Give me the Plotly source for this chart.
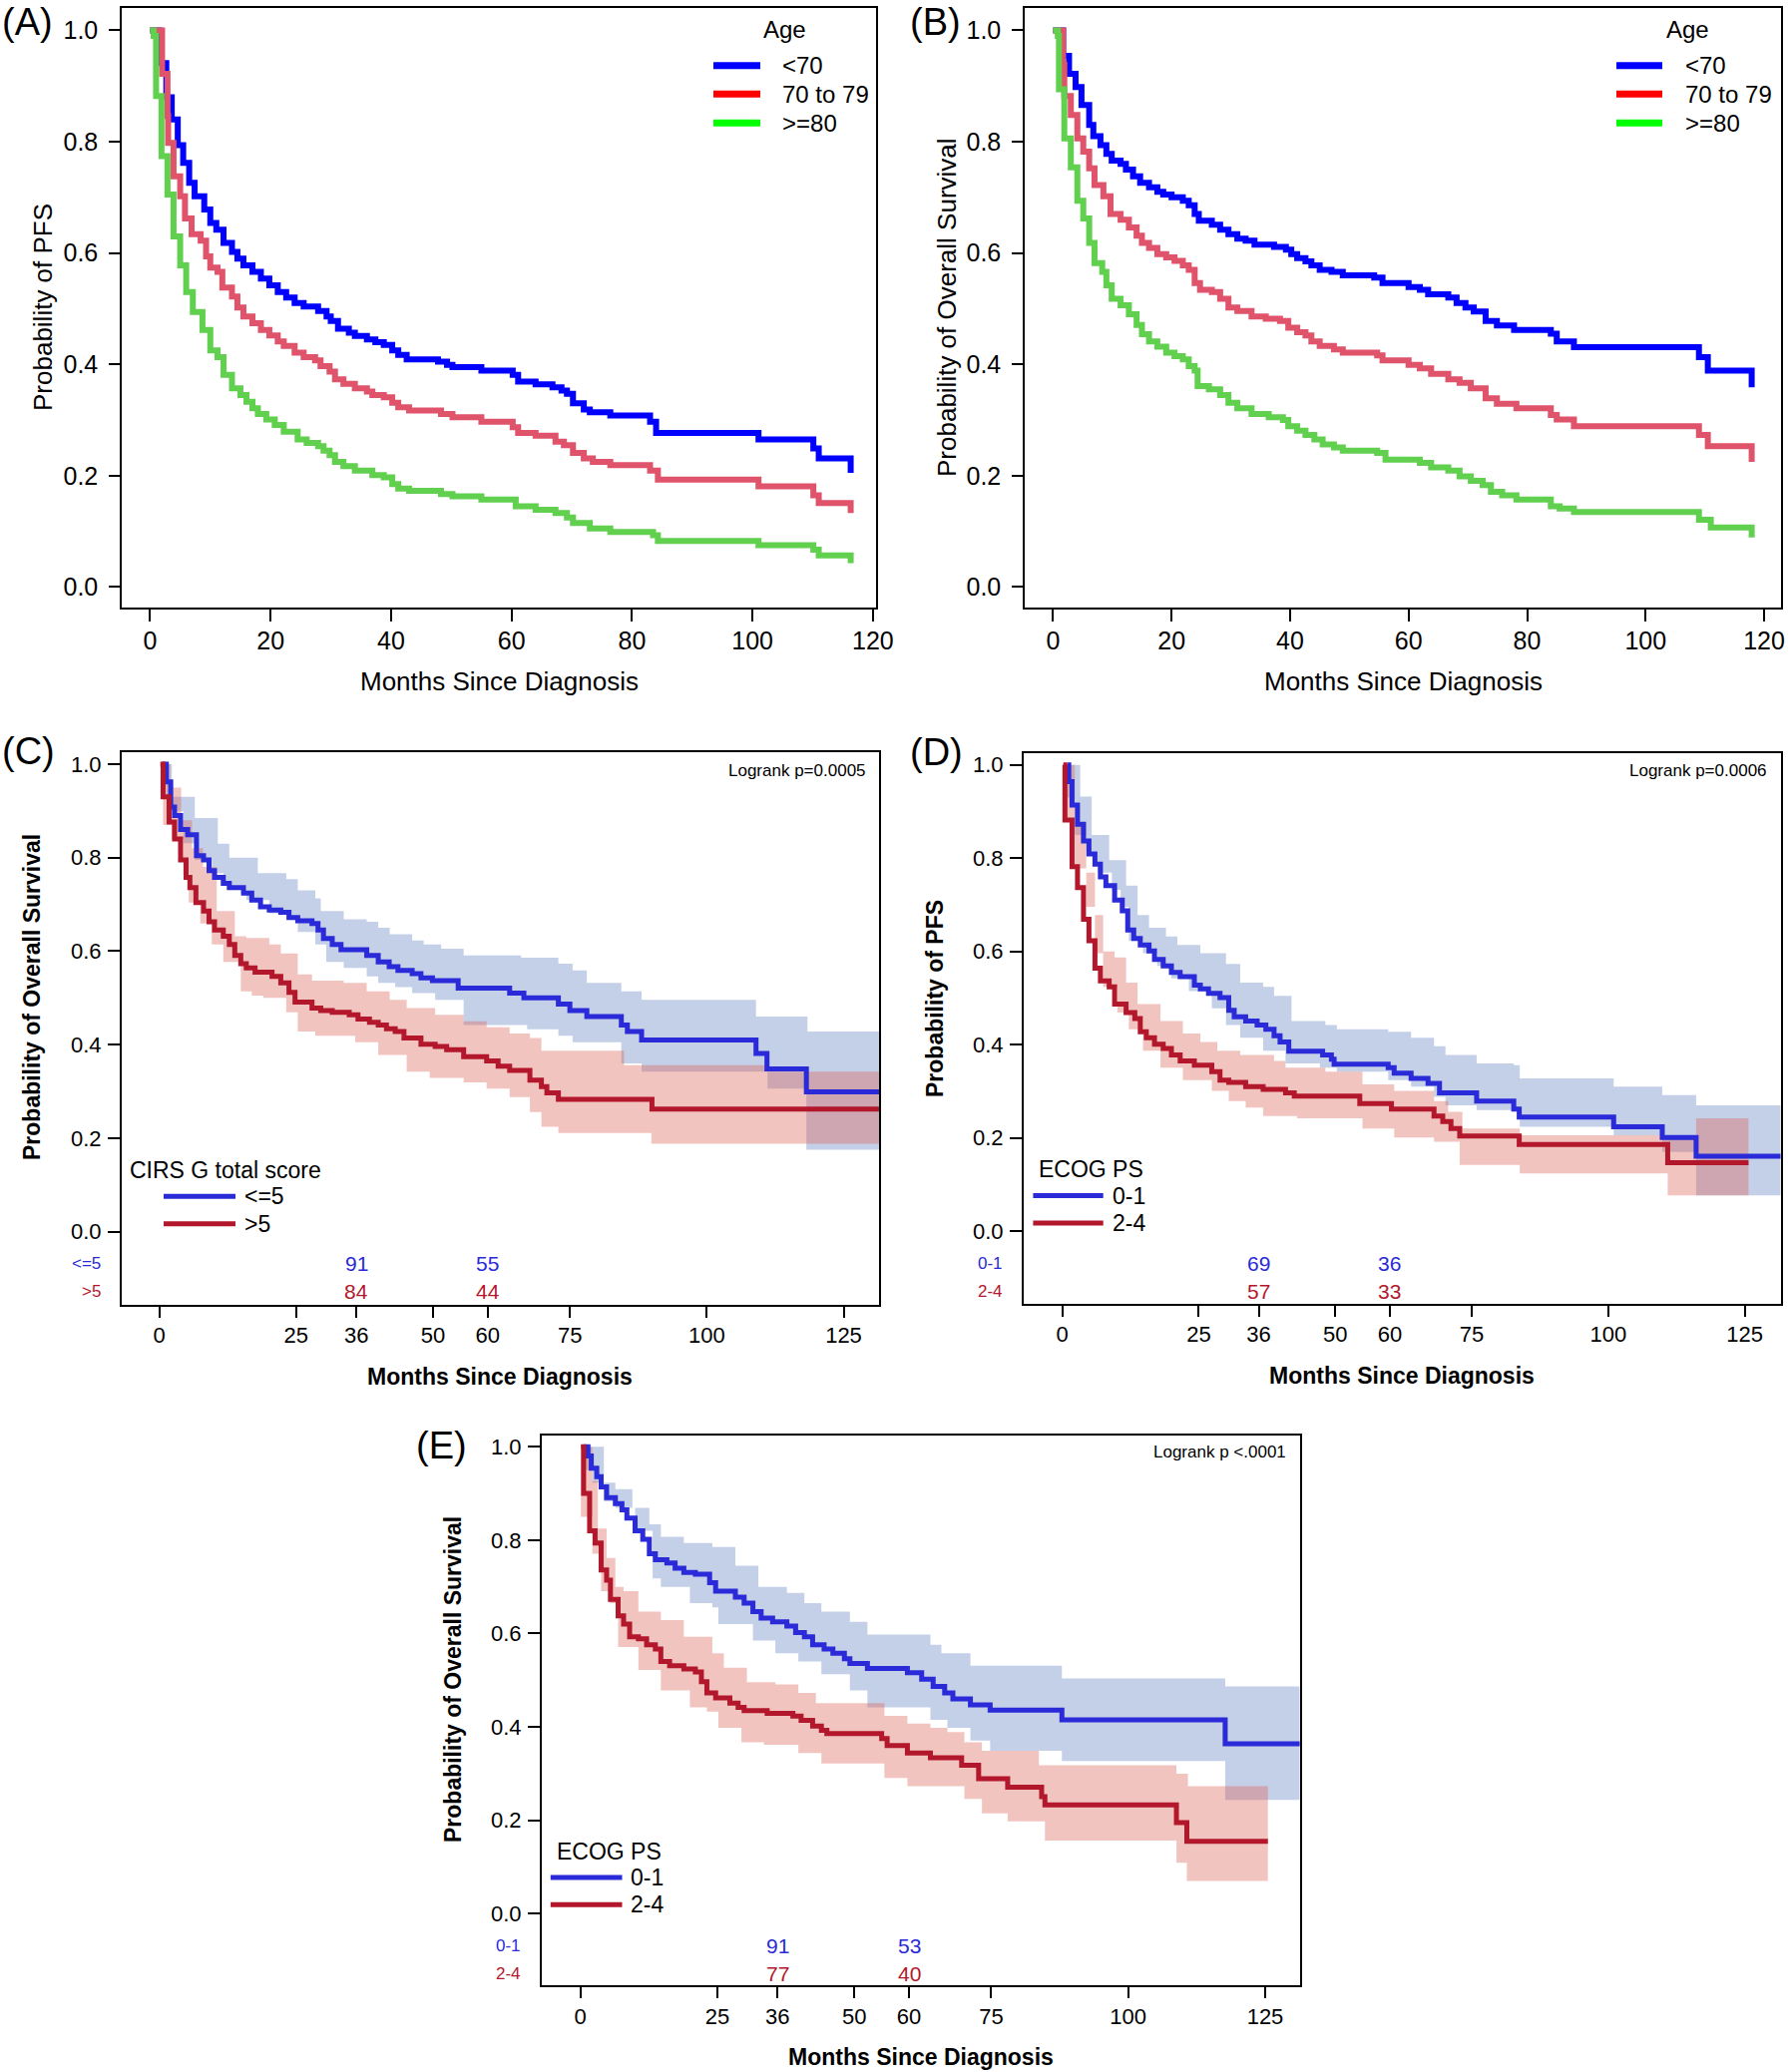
import plotly.graph_objects as go

# ======================= DATA =======================
# Kaplan-Meier steps as (months, survival probability)

# Panel A - PFS by age
A_LT70 = [(0,1.0),(1.5,0.941),(2.7,0.88),(3.6,0.84),(4.6,0.794),(5.5,0.762),(6.5,0.726),(7.4,0.702),(9,0.678),(10,0.654),
          (11,0.642),(12.2,0.618),(13.6,0.602),(14.5,0.59),(15.5,0.578),(17,0.566),(18.4,0.554),(19.8,0.542),(21.2,0.53),(22.6,0.52),
          (24,0.51),(25.5,0.504),(27.9,0.496),(29.3,0.486),(30,0.478),(31.2,0.464),(33,0.457),(34,0.451),(36,0.445),(37.4,0.44),
          (38.8,0.435),(40.2,0.425),(41.2,0.417),(42.6,0.409),(47.8,0.405),(49.3,0.399),(50.2,0.395),(55,0.389),(60.2,0.381),(61.1,0.369),
          (64,0.364),(66.8,0.359),(68.3,0.353),(69.2,0.347),(70.2,0.33),(72,0.319),(73,0.314),(76.4,0.308),(83,0.297),(84,0.277),
          (101,0.265),(110.1,0.249),(111,0.231),(116.3,0.205)]
A_70_79 = [(0,1.0),(2,0.922),(2.9,0.846),(3.0,0.798),(3.9,0.738),(5,0.702),(5.8,0.662),(6.9,0.634),(8.4,0.622),(9.3,0.594),
           (10,0.574),(11.2,0.566),(12,0.538),(13.6,0.522),(14.5,0.502),(15.5,0.486),(17,0.474),(18.4,0.462),(19.8,0.452),(21.2,0.441),
           (22.2,0.433),(24,0.421),(25.5,0.413),(27.4,0.407),(28.3,0.397),(29.8,0.387),(30.7,0.373),(32.1,0.365),(34,0.357),(36,0.351),
           (36.9,0.345),(38.8,0.341),(40.2,0.331),(41.2,0.323),(43,0.317),(48.3,0.311),(50.2,0.305),(55,0.297),(60.2,0.287),(61.1,0.277),
           (64,0.272),(67.3,0.261),(68.7,0.255),(70.2,0.241),(72,0.231),(73.5,0.225),(76.4,0.219),(83,0.209),(84.3,0.193),(101,0.181),
           (110.1,0.165),(111,0.151),(116.3,0.133)]
A_GE80 = [(0,1.0),(0.6,0.99),(1,0.882),(1.9,0.774),(2.9,0.705),(3.9,0.63),(5,0.578),(6,0.53),(7.1,0.494),(8.7,0.462),
          (10,0.425),(11.2,0.413),(12.2,0.381),(13.6,0.357),(15,0.345),(16,0.333),(17,0.321),(17.9,0.311),(19.3,0.301),(20.7,0.291),
          (22.2,0.279),(24.5,0.265),(26,0.259),(27.9,0.253),(28.8,0.245),(29.8,0.237),(30.7,0.225),(32.1,0.217),(34,0.209),(36.9,0.201),
          (38.8,0.197),(40.2,0.185),(41.2,0.177),(43,0.173),(48.3,0.167),(50.2,0.163),(55,0.157),(60.7,0.145),(64,0.139),(67.3,0.133),
          (69.2,0.125),(70.2,0.115),(73,0.105),(76.4,0.099),(83.5,0.093),(84.3,0.083),(101,0.075),(110.1,0.067),(111,0.057),(116.3,0.043)]

# Panel B - overall survival by age
B_LT70 = [(0,1.0),(1.7,0.954),(2.7,0.922),(3.8,0.898),(4.8,0.866),(6.1,0.83),(6.8,0.81),(8,0.794),(9,0.778),(9.9,0.766),
          (11.4,0.76),(12.3,0.75),(13.5,0.738),(14.7,0.726),(16.2,0.718),(17.6,0.71),(18.6,0.705),(20,0.70),(21.9,0.694),(22.9,0.686),
          (23.9,0.67),(24.6,0.658),(26.8,0.651),(28.2,0.642),(29.6,0.634),(31.1,0.626),(32.5,0.622),(34,0.615),(37.3,0.611),(39.3,0.606),
          (40.2,0.598),(41.2,0.591),(42.6,0.585),(43.6,0.578),(45,0.57),(47,0.566),(48.9,0.56),(54.2,0.556),(55.6,0.546),(60,0.539),
          (61.9,0.534),(63.3,0.526),(66.7,0.52),(68.1,0.51),(69.6,0.502),(71,0.495),(73,0.478),(74.9,0.47),(77.8,0.462),(84,0.455),
          (85,0.441),(87.9,0.431),(109,0.413),(110.5,0.389),(117.9,0.359)]
B_70_79 = [(0,1.0),(1.7,0.938),(1.9,0.882),(3,0.848),(4.1,0.806),(5.1,0.782),(6.1,0.752),(7,0.722),(8.5,0.702),(9.7,0.67),
           (11.4,0.66),(12.8,0.646),(14.1,0.631),(15,0.618),(16.2,0.609),(17.6,0.598),(19.1,0.592),(20.5,0.586),(21.9,0.578),(22.9,0.57),
           (23.9,0.546),(24.8,0.534),(26.8,0.53),(28.2,0.518),(29.6,0.502),(31.1,0.496),(33.5,0.486),(35.9,0.482),(38.3,0.478),(39.7,0.466),
           (41.2,0.458),(42.6,0.452),(43.6,0.441),(45,0.433),(47.4,0.427),(48.9,0.421),(54.7,0.416),(55.6,0.407),(60,0.399),(61.9,0.393),
           (63.8,0.383),(66.7,0.373),(68.6,0.367),(70.5,0.357),(73,0.339),(74.9,0.329),(78.2,0.321),(84,0.309),(85,0.301),(87.9,0.289),
           (109,0.273),(110.5,0.253),(117.9,0.225)]
B_GE80 = [(0,1.0),(0.8,0.99),(1,0.894),(1.9,0.806),(3,0.754),(4.1,0.694),(5.1,0.662),(6.1,0.618),(7,0.582),(8.3,0.566),
          (9,0.542),(9.9,0.518),(11.4,0.506),(12.8,0.49),(14.1,0.471),(15,0.454),(16.2,0.441),(17.6,0.432),(19.1,0.421),(20.5,0.415),
          (21.9,0.409),(22.9,0.397),(23.9,0.389),(24.4,0.361),(26.3,0.355),(28.2,0.345),(29.6,0.331),(31.1,0.321),(33.5,0.311),(36.4,0.305),
          (38.8,0.30),(39.7,0.289),(41.2,0.281),(42.6,0.273),(44.1,0.265),(45.5,0.256),(47.4,0.251),(48.9,0.245),(54.7,0.241),(56.1,0.229),
          (61.9,0.223),(63.8,0.215),(66.7,0.209),(68.6,0.199),(70.5,0.191),(72.5,0.183),(73.9,0.171),(75.8,0.165),(78.2,0.157),(84,0.145),
          (85.5,0.141),(87.9,0.135),(109,0.121),(111,0.107),(117.9,0.089)]

# Panel C - OS by CIRS-G total score
C_LE5 = [(0.5,1.0),(1.3,0.962),(2.1,0.908),(2.8,0.89),(3.9,0.86),(5.2,0.849),(6.8,0.804),(8.1,0.795),(9.1,0.772),(10.1,0.758),
         (11.7,0.745),(12.8,0.736),(15.4,0.724),(16.9,0.709),(18.5,0.695),(20.1,0.688),(22.2,0.683),(23.7,0.672),(25.3,0.665),(27.9,0.659),
         (29,0.645),(30,0.627),(31.6,0.614),(33.2,0.603),(37.9,0.591),(40,0.577),(42,0.567),(43.6,0.559),(46.2,0.552),(47.8,0.543),
         (49.9,0.537),(54.6,0.521),(64,0.51),(66.6,0.50),(72.9,0.487),(75,0.473),(78.1,0.46),(84.4,0.442),(85.5,0.428),(88.1,0.41),
         (109,0.381),(111,0.348),(118.2,0.299),(132,0.299)]
C_GT5 = [(0.2,1.0),(0.7,0.93),(1.8,0.876),(2.8,0.84),(3.9,0.795),(4.9,0.758),(5.6,0.736),(6.7,0.704),(8.1,0.686),(9.1,0.663),
         (10.1,0.645),(11.7,0.632),(12.8,0.614),(13.8,0.591),(14.9,0.573),(15.9,0.564),(17.5,0.555),(20.6,0.546),(22.2,0.532),(23.7,0.512),
         (24.8,0.491),(27.9,0.478),(29.5,0.473),(31.6,0.469),(34.7,0.464),(36.3,0.455),(38.4,0.448),(40,0.442),(41.5,0.434),(43.1,0.428),
         (44.7,0.414),(47.8,0.401),(50.4,0.396),(52.5,0.389),(55.6,0.374),(59.8,0.365),(61.9,0.354),(64,0.345),(67.7,0.324),(69.8,0.31),
         (70.8,0.297),(72.9,0.283),(90,0.262),(132,0.262)]
C_LE5_HI = [(1.3,1.0),(2.3,0.93),(6.5,0.885),(10.7,0.83),(12.8,0.80),(18.0,0.767),(23.2,0.754),(25.3,0.73),(28.5,0.713),(29.5,0.686),
            (33.7,0.668),(37.9,0.663),(40,0.65),(42.1,0.636),(46.2,0.623),(48.3,0.614),(51.5,0.605),(55.6,0.591),(66.1,0.586),(72.9,0.573),
            (75.5,0.559),(78.1,0.532),(84.4,0.514),(88.1,0.496),(109,0.46),(118.4,0.428),(132,0.428)]
C_LE5_LO = [(1.3,0.93),(2.3,0.899),(4.4,0.831),(6.5,0.795),(9.6,0.767),(11.7,0.74),(15.9,0.709),(20.1,0.681),(23.2,0.668),(25.3,0.641),
            (28.5,0.614),(30.5,0.577),(33.7,0.564),(37.9,0.546),(40,0.532),(43.1,0.523),(46.2,0.51),(50.4,0.496),(55.6,0.442),(67.2,0.433),
            (72.9,0.419),(75.5,0.405),(84.4,0.36),(88.1,0.342),(111.1,0.306),(118.2,0.175),(132,0.175)]
C_GT5_HI = [(0.2,1.0),(2,0.95),(4,0.88),(6,0.82),(8,0.78),(10.5,0.686),(13.8,0.632),(15.9,0.628),(20.1,0.614),(22.2,0.595),
            (25.3,0.55),(27.9,0.537),(33.7,0.532),(37.9,0.514),(42.1,0.496),(45.2,0.478),(50.4,0.464),(55.6,0.45),(59.8,0.437),(64,0.424),
            (67.7,0.414),(69.8,0.387),(84.9,0.356),(111.1,0.342),(132,0.342)]
C_GT5_LO = [(0.2,1.0),(0.7,0.87),(2.3,0.84),(4.4,0.767),(5.4,0.704),(7.5,0.659),(9.6,0.614),(11.7,0.577),(14.9,0.514),(16.9,0.505),
            (19,0.50),(23.2,0.469),(25.3,0.428),(28.5,0.419),(35.8,0.405),(40,0.378),(45.2,0.342),(49.4,0.329),(55.6,0.319),(59.8,0.306),
            (64,0.288),(67.7,0.256),(69.8,0.224),(72.9,0.211),(89.9,0.188),(132,0.188)]
C_RISK_T = [36, 60]
C_RISK_LE5 = [91, 55]
C_RISK_GT5 = [84, 44]

# Panel D - PFS by ECOG PS
D_01 = [(1.0,1.0),(1.2,0.964),(1.8,0.914),(2.8,0.873),(3.9,0.837),(4.9,0.809),(6,0.787),(7,0.76),(8,0.741),(9.6,0.71),
        (11,0.687),(12,0.646),(13.1,0.628),(14.3,0.614),(15.9,0.601),(16.9,0.583),(18.5,0.569),(20,0.555),(21.6,0.546),(24.2,0.528),
        (25.3,0.52),(26.8,0.51),(28.9,0.501),(30.5,0.474),(31.5,0.46),(33.6,0.451),(35.7,0.442),(37.3,0.433),(38.8,0.419),(39.9,0.406),
        (41.5,0.386),(47.7,0.378),(49.3,0.369),(49.8,0.358),(59.7,0.351),(60.8,0.339),(63.9,0.328),(67,0.317),(69.1,0.297),(75.9,0.279),
        (82.7,0.262),(83.7,0.245),(101,0.224),(109.9,0.201),(116.1,0.161),(132,0.161)]
D_24 = [(0.2,1.0),(0.5,0.882),(1.8,0.782),(2.8,0.737),(3.9,0.669),(4.9,0.623),(6,0.564),(7,0.537),(8.6,0.524),(9.6,0.487),
        (11.7,0.469),(13.3,0.456),(14.3,0.428),(15.4,0.415),(16.9,0.401),(18.5,0.392),(20,0.378),(21.6,0.365),(24.2,0.356),(27.4,0.342),
        (28.9,0.324),(30.5,0.319),(33.6,0.31),(36.8,0.304),(40.9,0.297),(42.5,0.29),(54.5,0.274),(60.3,0.262),(68.1,0.247),(69.7,0.235),
        (71.2,0.22),(72.8,0.204),(83.7,0.186),(110.9,0.147),(125.7,0.147)]
D_01_HI = [(1.0,1.0),(3.3,0.932),(5.4,0.85),(8.6,0.796),(11.7,0.741),(13.8,0.678),(15.9,0.651),(19,0.632),(21.1,0.614),(25.3,0.596),
           (30,0.573),(32.6,0.533),(36.8,0.524),(38.8,0.505),(42,0.451),(48.2,0.442),(50.3,0.433),(59.7,0.428),(63.9,0.415),(68.1,0.397),
           (70.2,0.378),(75.9,0.36),(82.7,0.356),(83.8,0.328),(101,0.31),(109.9,0.292),(116.1,0.27),(132,0.27)]
D_01_LO = [(1.0,0.93),(2.3,0.85),(4.4,0.814),(6.5,0.769),(9.1,0.732),(10.7,0.696),(12.2,0.623),(14.8,0.596),(17.4,0.569),(20,0.542),
           (23.2,0.515),(27.4,0.478),(30,0.442),(32.6,0.415),(36.8,0.387),(40.9,0.36),(47.2,0.351),(50.3,0.342),(59.7,0.324),(63.9,0.31),
           (68.1,0.288),(70.2,0.27),(75.9,0.26),(83.8,0.224),(101,0.206),(109.9,0.17),(116.1,0.077),(132,0.077)]
D_24_HI = [(0.2,1.0),(2.3,0.877),(4.4,0.769),(6,0.678),(7.5,0.60),(9.6,0.587),(11.7,0.533),(13.8,0.487),(18,0.451),(22.1,0.424),
           (25.3,0.406),(28.4,0.387),(32.6,0.378),(38.8,0.365),(40.9,0.351),(48.2,0.342),(55,0.315),(60.8,0.301),(68.1,0.279),(70.7,0.256),
           (73.3,0.22),(83.8,0.206),(116.1,0.242),(125.7,0.242)]
D_24_LO = [(0.2,0.88),(2.3,0.778),(4.4,0.696),(6,0.596),(7.5,0.524),(10.1,0.469),(12.2,0.433),(14.8,0.387),(18,0.351),(22.1,0.324),
           (27.4,0.301),(30.5,0.279),(33.6,0.265),(36.8,0.247),(43,0.242),(55,0.22),(60.8,0.201),(68.1,0.192),(72.8,0.142),(83.8,0.124),
           (110.9,0.077),(125.7,0.077)]
D_RISK_T = [36, 60]
D_RISK_01 = [69, 36]
D_RISK_24 = [57, 33]

# Panel E - OS by ECOG PS
E_01 = [(0.6,1.0),(1.4,0.98),(2,0.954),(3,0.936),(3.8,0.914),(4.8,0.891),(6.4,0.878),(7.6,0.865),(8.5,0.847),(10,0.82),
        (11.4,0.802),(12.6,0.771),(13.7,0.758),(15.8,0.751),(17.3,0.74),(18.9,0.731),(21,0.727),(23.6,0.709),(24.7,0.691),(28.3,0.678),
        (29.9,0.665),(31.5,0.647),(33,0.633),(35.1,0.625),(37.7,0.616),(39.3,0.602),(40.9,0.593),(42.4,0.576),(44.5,0.567),(46.1,0.558),
        (48.2,0.546),(49.2,0.536),(52.4,0.525),(59.7,0.516),(62.3,0.502),(64.4,0.487),(66.5,0.473),(68,0.46),(71.2,0.447),(74.8,0.436),
        (87.9,0.415),(117.7,0.364),(132,0.364)]
E_24 = [(0.1,1.0),(0.6,0.90),(1.7,0.82),(2.7,0.794),(3.8,0.736),(4.8,0.714),(5.5,0.673),(6.9,0.638),(7.9,0.62),(9,0.593),
        (10.6,0.589),(12.1,0.576),(13.7,0.567),(14.7,0.54),(16.3,0.531),(18.9,0.524),(21,0.518),(22.1,0.497),(23.1,0.473),(24.7,0.462),
        (27.3,0.451),(28.8,0.442),(29.9,0.435),(34.1,0.429),(38.8,0.423),(40.3,0.414),(42.4,0.402),(44,0.393),(45,0.386),(55,0.375),
        (56,0.36),(59.7,0.344),(63.9,0.334),(69.6,0.318),(72.7,0.289),(78,0.271),(84.2,0.251),(84.8,0.233),(108.8,0.195),(110.7,0.155),
        (125.5,0.155)]
E_01_HI = [(1.0,1.0),(4.3,0.923),(6.4,0.909),(9.5,0.869),(12.6,0.834),(14.7,0.807),(18.9,0.794),(24.1,0.785),(28.3,0.745),(32.5,0.70),
           (37.7,0.687),(40.9,0.665),(44,0.647),(49.2,0.625),(52.4,0.598),(63.9,0.576),(65.9,0.558),(71.2,0.531),(87.9,0.504),(117.7,0.487),
           (132,0.487)]
E_01_LO = [(1.0,0.95),(2.2,0.923),(4.3,0.883),(6.4,0.869),(10,0.82),(13.2,0.718),(14.7,0.70),(20,0.665),(24.1,0.656),(25.2,0.62),
           (31.5,0.585),(35.6,0.558),(39.8,0.54),(44,0.513),(49.2,0.478),(52.4,0.442),(63.9,0.415),(67,0.398),(71.2,0.371),(74.8,0.349),
           (87.9,0.327),(117.7,0.244),(132,0.244)]
E_24_HI = [(0.1,1.0),(2.2,0.927),(3.2,0.825),(4.8,0.762),(6.4,0.70),(7.9,0.691),(10.6,0.647),(14.7,0.629),(18.9,0.593),(24.1,0.558),
           (26.2,0.527),(30.4,0.496),(35.6,0.491),(39.8,0.473),(43,0.451),(55.5,0.424),(59.7,0.407),(63.9,0.398),(67,0.389),(70.1,0.367),
           (73.3,0.349),(83.7,0.318),(108.8,0.30),(110.9,0.273),(125.5,0.273)]
E_24_LO = [(0.1,0.85),(2.2,0.771),(3.8,0.691),(5.3,0.665),(6.9,0.571),(10.6,0.522),(14.7,0.478),(20,0.442),(23.1,0.433),(25.2,0.398),
           (29.4,0.367),(33.5,0.362),(39.8,0.344),(44,0.322),(55.5,0.291),(59.7,0.273),(70.1,0.246),(73.3,0.215),(78,0.198),(84.8,0.157),
           (108.8,0.109),(110.7,0.07),(125.5,0.07)]
E_RISK_T = [36, 60]
E_RISK_01 = [91, 53]
E_RISK_24 = [77, 40]

AGE_LABELS = ["&lt;70", "70 to 79", "&gt;=80"]
X_TICKS_R = [0, 20, 40, 60, 80, 100, 120]
X_TICKS_S = [0, 25, 36, 50, 60, 75, 100, 125]
Y_TICKS = [0.0, 0.2, 0.4, 0.6, 0.8, 1.0]

# ======================= STYLE =======================
W, H = 1796, 2077
FONT = "Liberation Sans, Arial, sans-serif"
R_BLUE, R_RED, R_GREEN = "#0000FF", "#DF536B", "#61D04F"
R_LEG = ["#0000FF", "#FF0000", "#00FF00"]
S_BLUE, S_RED = "#2A2AD8", "#B3172C"
S_BLUE_BAND = "rgba(107,137,197,0.40)"
S_RED_BAND = "rgba(220,95,85,0.37)"


def fx(p):
    return p / W


def fy(p):
    return 1 - p / H


def unzip(pairs):
    return [p[0] for p in pairs], [p[1] for p in pairs]


def refs(i):
    return ("x", "y") if i == 1 else (f"x{i}", f"y{i}")


fig = go.Figure()
layout = dict(width=W, height=H, margin=dict(l=0, r=0, t=0, b=0, pad=0, autoexpand=False), autosize=False,
              paper_bgcolor="white", plot_bgcolor="white", showlegend=False,
              font=dict(family=FONT, color="black"))
annotations = []
shapes = []

# panel geometry: index, box px (left, right, top, bottom), x range, y range, style
PANELS = [
    (1, (122, 878, 8, 609), [-4.70, 120.51], [-0.0368, 1.0402], "R"),
    (2, (1027, 1785, 8, 609), [-4.78, 122.85], [-0.0368, 1.0402], "R"),
    (3, (122, 881, 754, 1307.5), [-6.85, 131.47], [-0.1556, 1.0256], "S"),
    (4, (1026, 1784.5, 755, 1306.7), [-7.05, 131.56], [-0.1551, 1.0252], "S"),
    (5, (543, 1302.6, 1439.4, 1990.4), [-7.03, 131.30], [-0.1538, 1.0231], "S"),
]

for idx, (l, r, t, b), xr, yr, style in PANELS:
    xa, ya = refs(idx)
    common = dict(showline=True, mirror=True, linecolor="black", ticks="outside", tickcolor="black",
                  showgrid=False, zeroline=False, fixedrange=True, tickmode="array", automargin=False)
    if style == "R":
        tf = dict(size=25, family=FONT, color="black")
        xcfg = dict(common, ticklen=12, tickwidth=1.5, linewidth=1.5, tickfont=tf, tickvals=X_TICKS_R,
                    ticklabelstandoff=-2)
        ycfg = dict(common, ticklen=11, tickwidth=1.5, linewidth=1.5, tickfont=tf, tickvals=Y_TICKS,
                    tickformat=".1f", ticklabelstandoff=6)
    else:
        tf = dict(size=22, family=FONT, color="black")
        xcfg = dict(common, ticklen=11, tickwidth=1.5, linewidth=2, tickfont=tf, tickvals=X_TICKS_S,
                    ticklabelstandoff=-1)
        ycfg = dict(common, ticklen=12, tickwidth=1.5, linewidth=2, tickfont=tf, tickvals=Y_TICKS,
                    tickformat=".1f", ticklabelstandoff=2)
    xcfg.update(domain=[fx(l), fx(r)], range=xr, anchor=ya)
    ycfg.update(domain=[fy(b), fy(t)], range=yr, anchor=xa)
    layout["xaxis" if idx == 1 else f"xaxis{idx}"] = xcfg
    layout["yaxis" if idx == 1 else f"yaxis{idx}"] = ycfg


def add_line(idx, pairs, color, width):
    xa, ya = refs(idx)
    tt, ss = unzip(pairs)
    fig.add_trace(go.Scatter(x=tt, y=ss, mode="lines", xaxis=xa, yaxis=ya, hoverinfo="skip",
                             line=dict(color=color, width=width, shape="hv")))


def add_band(idx, lo, hi, fill):
    xa, ya = refs(idx)
    t1, s1 = unzip(lo)
    t2, s2 = unzip(hi)
    fig.add_trace(go.Scatter(x=t1, y=s1, mode="lines", xaxis=xa, yaxis=ya, hoverinfo="skip",
                             line=dict(width=0, shape="hv", color="rgba(0,0,0,0)")))
    fig.add_trace(go.Scatter(x=t2, y=s2, mode="lines", xaxis=xa, yaxis=ya, hoverinfo="skip",
                             line=dict(width=0, shape="hv", color="rgba(0,0,0,0)"),
                             fill="tonexty", fillcolor=fill))


# Panels A, B
for c, col in zip([A_LT70, A_70_79, A_GE80], [R_BLUE, R_RED, R_GREEN]):
    add_line(1, c, col, 6)
for c, col in zip([B_LT70, B_70_79, B_GE80], [R_BLUE, R_RED, R_GREEN]):
    add_line(2, c, col, 6)

# Panels C, D, E
add_band(3, C_LE5_LO, C_LE5_HI, S_BLUE_BAND)
add_band(3, C_GT5_LO, C_GT5_HI, S_RED_BAND)
add_line(3, C_LE5, S_BLUE, 5)
add_line(3, C_GT5, S_RED, 5)

add_band(4, D_01_LO, D_01_HI, S_BLUE_BAND)
add_band(4, D_24_LO, D_24_HI, S_RED_BAND)
add_line(4, D_01, S_BLUE, 5)
add_line(4, D_24, S_RED, 5)

add_band(5, E_01_LO, E_01_HI, S_BLUE_BAND)
add_band(5, E_24_LO, E_24_HI, S_RED_BAND)
add_line(5, E_01, S_BLUE, 5)
add_line(5, E_24, S_RED, 5)


def text(x, y, s, size, xanchor="center", yanchor="middle", angle=0, bold=False, color="black",
         xref="paper", yref="paper"):
    if bold:
        s = f"<b>{s}</b>"
    annotations.append(dict(x=x, y=y, xref=xref, yref=yref, text=s, showarrow=False, textangle=angle,
                            xanchor=xanchor, yanchor=yanchor, font=dict(size=size, family=FONT, color=color)))


def seg(x0, x1, y, color, width):
    shapes.append(dict(type="line", xref="paper", yref="paper", x0=fx(x0), x1=fx(x1), y0=fy(y), y1=fy(y),
                       line=dict(color=color, width=width)))


# Panel labels
text(fx(0), fy(22), "(A)", 38, xanchor="left")
text(fx(910), fy(22), "(B)", 38, xanchor="left")
text(fx(0), fy(753), "(C)", 38, xanchor="left")
text(fx(910), fy(754), "(D)", 38, xanchor="left")
text(fx(415), fy(1449), "(E)", 38, xanchor="left")

# Axis titles
text(fx(500), fy(683), "Months Since Diagnosis", 26)
text(fx(1406), fy(683), "Months Since Diagnosis", 26)
text(fx(43), fy(308), "Probability of PFS", 26, angle=-90)
text(fx(949), fy(308), "Probability of Overall Survival", 26, angle=-90)
text(fx(501.5), fy(1380), "Months Since Diagnosis", 23, bold=True)
text(fx(1405), fy(1379), "Months Since Diagnosis", 23, bold=True)
text(fx(923), fy(2062), "Months Since Diagnosis", 23, bold=True)
text(fx(32), fy(1000), "Probability of Overall Survival", 23, angle=-90, bold=True)
text(fx(937), fy(1001), "Probability of PFS", 23, angle=-90, bold=True)
text(fx(454), fy(1684), "Probability of Overall Survival", 23, angle=-90, bold=True)

# Legends A, B
for (tx, lx0, lx1, lab_x) in [(786.7, 715, 762, 781.7), (1691, 1620, 1666, 1687)]:
    text(fx(tx), fy(30), "Age", 24)
    for yy, col, lab in zip([65.7, 94.3, 123.3], R_LEG, AGE_LABELS):
        seg(lx0, lx1, yy, col, 7)
        text(fx(lab_x), fy(yy), lab, 24, xanchor="left")

# Legends C, D, E
for (title, tx, ty, lx0, lx1, ly, labx, labs) in [
    ("CIRS G total score", 128, 1172.7, 164, 236, [1199.3, 1226.7], 242.7, ["&lt;=5", "&gt;5"]),
    ("ECOG PS", 1039, 1172, 1035.4, 1105.7, [1198.5, 1226], 1112.6, ["0-1", "2-4"]),
    ("ECOG PS", 556.4, 1856.3, 551.8, 623.5, [1882, 1909.2], 629.8, ["0-1", "2-4"]),
]:
    text(fx(tx), fy(ty), title, 23, xanchor="left")
    for yy, col, lab in zip(ly, [S_BLUE, S_RED], labs):
        seg(lx0, lx1, yy, col, 5)
        text(fx(labx), fy(yy), lab, 23, xanchor="left")

# Logrank texts
text(fx(870), fy(772), "Logrank p=0.0005", 17, xanchor="right")
text(fx(1773), fy(772), "Logrank p=0.0006", 17, xanchor="right")
text(fx(1291), fy(1455), "Logrank p &lt;.0001", 17, xanchor="right")

# Numbers at risk
ROW_Y = [-0.069, -0.128]
for idx, lab_x, labs, times, n1, n2 in [
    (3, 103, ["&lt;=5", "&gt;5"], C_RISK_T, C_RISK_LE5, C_RISK_GT5),
    (4, 1007.4, ["0-1", "2-4"], D_RISK_T, D_RISK_01, D_RISK_24),
    (5, 523.7, ["0-1", "2-4"], E_RISK_T, E_RISK_01, E_RISK_24),
]:
    xa, ya = refs(idx)
    for ry, lab, col, nums in zip(ROW_Y, labs, [S_BLUE, S_RED], [n1, n2]):
        text(fx(lab_x), ry, lab, 17, xanchor="right", color=col, yref=ya)
        for tm, n in zip(times, nums):
            text(tm, ry, str(n), 21, color=col, xref=xa, yref=ya)

layout["annotations"] = annotations
layout["shapes"] = shapes
fig.update_layout(**layout)
fig.write_html("out.html", config={"displayModeBar": False, "responsive": False},
               post_script="document.body.style.margin='0';document.body.style.overflow='hidden';")
